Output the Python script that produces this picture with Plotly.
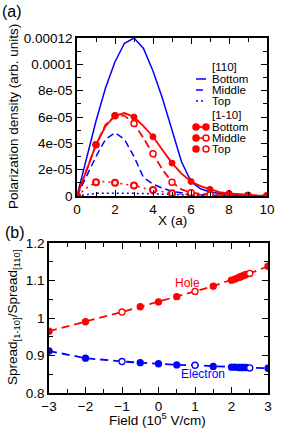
import plotly.graph_objects as go

# ---------------- Panel (a) data ----------------
X_A = [0, 0.5, 1, 1.5, 2, 2.5, 3, 3.5, 4, 4.5, 5, 5.5, 6, 6.5, 7, 7.5, 8, 8.5, 9, 9.5, 10]
b110_bottom = [0, 2.9e-5, 5.7e-5, 8.2e-5, 1.02e-4, 1.16e-4, 1.2e-4, 1.12e-4, 9.5e-5, 7.4e-5, 5.0e-5,
               2.6e-5, 1.1e-5, 5.5e-6, 3e-6, 2e-6, 1e-6, 6e-7, 3e-7, 1e-7, 0]
b110_middle = [0, 1.5e-5, 3.0e-5, 4.3e-5, 4.8e-5, 4.3e-5, 3.0e-5, 1.4e-5, 9e-6, 6e-6, 3.5e-6,
               2.5e-6, 1.5e-6, 1e-6, 5e-7, 3e-7, 2e-7, 1e-7, 0, 0, 0]
b110_top = [0, 1.2e-6, 2e-6, 2.1e-6, 2.2e-6, 2.1e-6, 2e-6, 1.9e-6, 1.8e-6, 1.5e-6, 1.2e-6,
            9e-7, 6e-7, 4e-7, 3e-7, 2e-7, 1e-7, 0, 0, 0, 0]
r1m10_bottom = [0, 2e-5, 3.9e-5, 5.3e-5, 6.1e-5, 6.3e-5, 6.0e-5, 5.3e-5, 4.5e-5, 3.5e-5, 2.5e-5,
                1.7e-5, 1.1e-5, 7.5e-6, 5e-6, 3e-6, 2e-6, 1.3e-6, 8e-7, 4e-7, 2e-7]
r1m10_middle = [0, 2e-5, 3.9e-5, 5.4e-5, 6.1e-5, 6.1e-5, 5.5e-5, 4.4e-5, 3.2e-5, 2.0e-5, 1.05e-5,
                5e-6, 2.5e-6, 1.6e-6, 1e-6, 7e-7, 4e-7, 2e-7, 1e-7, 0, 0]
r1m10_top = [0, 6e-6, 1.05e-5, 1.1e-5, 1.0e-5, 9e-6, 8e-6, 6e-6, 4.5e-6, 3.2e-6, 2e-6,
             1.5e-6, 1e-6, 7e-7, 5e-7, 3e-7, 2e-7, 1e-7, 0, 0, 0]

A_XTICKS = [0, 2, 4, 6, 8, 10]
A_YTICKS = [0, 2e-5, 4e-5, 6e-5, 8e-5, 1e-4, 1.2e-4]
A_YTICKTEXT = ["0", "2e-05", "4e-05", "6e-05", "8e-05", "0.0001", "0.00012"]

# ---------------- Panel (b) data ----------------
FIELD = [-3, -2, -1, -0.5, 0, 0.5, 1, 1.5, 2, 2.1, 2.2, 2.25, 2.3, 2.35, 2.4, 2.5, 3]
HOLE = [0.965, 0.990, 1.016, 1.030, 1.043, 1.057, 1.071, 1.085, 1.101, 1.104, 1.108, 1.110,
        1.112, 1.114, 1.116, 1.119, 1.138]
ELECTRON = [0.912, 0.893, 0.884, 0.881, 0.878, 0.875, 0.874, 0.871, 0.869, 0.869, 0.868, 0.868,
            0.868, 0.868, 0.868, 0.867, 0.866]
OPEN_MARK = [False, False, True, False, False, False, True, False, False, False, False, False,
             False, False, False, True, False]
B_XTICKS = [-3, -2, -1, 0, 1, 2, 3]
B_YTICKS = [0.8, 0.9, 1.0, 1.1, 1.2]
B_YTICKTEXT = ["0.8", "0.9", "1", "1.1", "1.2"]

RED = "#ff0000"
BLUE = "#0000ff"
FONT = "Liberation Sans, Arial, sans-serif"
W, H = 300, 437
FS = 13.5

fig = go.Figure()

# Panel (a) traces
fig.add_trace(go.Scatter(x=X_A, y=b110_bottom, mode="lines", line=dict(color=BLUE, width=1.5),
                         xaxis="x", yaxis="y", showlegend=False))
fig.add_trace(go.Scatter(x=X_A, y=b110_middle, mode="lines", line=dict(color=BLUE, width=1.5, dash="7px,4px"),
                         xaxis="x", yaxis="y", showlegend=False))
fig.add_trace(go.Scatter(x=X_A, y=b110_top, mode="lines", line=dict(color=BLUE, width=1.5, dash="2px,3px"),
                         xaxis="x", yaxis="y", showlegend=False))
fig.add_trace(go.Scatter(x=X_A, y=r1m10_top, mode="lines", line=dict(color=RED, width=1.5, dash="2px,4px"),
                         xaxis="x", yaxis="y", showlegend=False))
fig.add_trace(go.Scatter(x=X_A, y=r1m10_middle, mode="lines", line=dict(color=RED, width=1.8, dash="8px,4px"),
                         xaxis="x", yaxis="y", showlegend=False))
fig.add_trace(go.Scatter(x=X_A, y=r1m10_bottom, mode="lines", line=dict(color=RED, width=1.8),
                         xaxis="x", yaxis="y", showlegend=False))
# markers at integer X
fig.add_trace(go.Scatter(x=X_A[::2], y=r1m10_top[::2], mode="markers",
                         marker=dict(size=6, color="white", line=dict(color=RED, width=2)),
                         xaxis="x", yaxis="y", showlegend=False))
fig.add_trace(go.Scatter(x=X_A[::2], y=r1m10_middle[::2], mode="markers",
                         marker=dict(size=6, color="white", line=dict(color=RED, width=1.5)),
                         xaxis="x", yaxis="y", showlegend=False))
fig.add_trace(go.Scatter(x=X_A[::2], y=r1m10_bottom[::2], mode="markers",
                         marker=dict(size=6, color=RED, line=dict(color=RED, width=1)),
                         xaxis="x", yaxis="y", showlegend=False))

# Panel (b) traces
fig.add_trace(go.Scatter(x=FIELD, y=HOLE, mode="lines+markers",
                         line=dict(color=RED, width=1.8, dash="8px,5px"),
                         marker=dict(size=6, color=["white" if o else RED for o in OPEN_MARK],
                                     line=dict(color=RED, width=1.3)),
                         xaxis="x2", yaxis="y2", showlegend=False))
fig.add_trace(go.Scatter(x=FIELD, y=ELECTRON, mode="lines+markers",
                         line=dict(color=BLUE, width=1.8, dash="8px,5px"),
                         marker=dict(size=6, color=["white" if o else BLUE for o in OPEN_MARK],
                                     line=dict(color=BLUE, width=1.3)),
                         xaxis="x2", yaxis="y2", showlegend=False))

tickfont = dict(family=FONT, size=FS, color="black")
axis_common = dict(showline=True, linecolor="black", linewidth=1.5, mirror="ticks",
                   ticks="inside", ticklen=6, tickwidth=1.2, tickcolor="black",
                   showgrid=False, zeroline=False, tickfont=tickfont, automargin=False)

def px_x(p):
    return p / W

def px_y(p):
    return 1 - p / H

fig.update_layout(
    width=W, height=H, margin=dict(l=0, r=0, t=0, b=0, autoexpand=False),
    paper_bgcolor="white", plot_bgcolor="white",
    xaxis=dict(domain=[px_x(77), px_x(267)], range=[0, 10], anchor="y",
               tickvals=A_XTICKS, minor=dict(dtick=1, ticks="inside", ticklen=4, tickcolor="black"),
               **axis_common),
    yaxis=dict(domain=[px_y(196), px_y(38)], range=[0, 1.2e-4], anchor="x",
               tickvals=A_YTICKS, ticktext=A_YTICKTEXT,
               minor=dict(tickvals=[1e-5, 3e-5, 5e-5, 7e-5, 9e-5, 1.1e-4], ticks="inside", ticklen=4,
                          tickcolor="black"),
               **axis_common),
    xaxis2=dict(domain=[px_x(49), px_x(268)], range=[-3, 3], anchor="y2",
                tickvals=B_XTICKS, minor=dict(dtick=0.5, ticks="inside", ticklen=4, tickcolor="black"),
                **axis_common),
    yaxis2=dict(domain=[px_y(393), px_y(243)], range=[0.8, 1.2], anchor="x2",
                tickvals=B_YTICKS, ticktext=B_YTICKTEXT,
                minor=dict(tickvals=[0.85, 0.95, 1.05, 1.15], ticks="inside", ticklen=4, tickcolor="black"),
                **axis_common),
)

ann = []
def add_text(text, x, y, size=FS, color="black", angle=0, xanchor="center"):
    ann.append(dict(text=text, x=px_x(x), y=px_y(y), xref="paper", yref="paper", showarrow=False,
                    font=dict(family=FONT, size=size, color=color), textangle=angle,
                    xanchor=xanchor, yanchor="middle"))

add_text("(a)", 12, 11, size=16)
add_text("(b)", 15, 233, size=16)
add_text("Polarization density (arb. units)", 13, 117, angle=-90)
add_text("X (a)", 172, 220)
add_text("Spread<sub>[1-10]</sub>/Spread<sub>[110]</sub>", 13, 318, angle=-90)
add_text("Field (10<sup>5</sup> V/cm)", 158, 419)

# panel (b) curve labels in data coords
ann.append(dict(text="Hole", x=0.8, y=1.093, xref="x2", yref="y2", showarrow=False,
                font=dict(family=FONT, size=12, color=RED)))
ann.append(dict(text="Electron", x=1.22, y=0.851, xref="x2", yref="y2", showarrow=False,
                font=dict(family=FONT, size=12, color=BLUE)))

# custom legend (panel a)
LEG_X_TEXT = 210
LFS = 11.5
add_text("[110]", LEG_X_TEXT, 67, size=LFS, xanchor="left")
add_text("Bottom", LEG_X_TEXT, 79, size=LFS, xanchor="left")
add_text("Middle", LEG_X_TEXT, 90, size=LFS, xanchor="left")
add_text("Top", LEG_X_TEXT, 101, size=LFS, xanchor="left")
add_text("[1-10]", LEG_X_TEXT, 115, size=LFS, xanchor="left")
add_text("Bottom", LEG_X_TEXT, 127, size=LFS, xanchor="left")
add_text("Middle", LEG_X_TEXT, 138, size=LFS, xanchor="left")
add_text("Top", LEG_X_TEXT, 149, size=LFS, xanchor="left")
fig.update_layout(annotations=ann)

shapes = []
def seg(y, color, dash, width=1.5):
    shapes.append(dict(type="line", xref="paper", yref="paper", x0=px_x(196), x1=px_x(206),
                       y0=px_y(y), y1=px_y(y), line=dict(color=color, width=width, dash=dash)))

def circ(cx, cy, fill, r=3):
    shapes.append(dict(type="circle", xref="paper", yref="paper", x0=px_x(cx - r), x1=px_x(cx + r),
                       y0=px_y(cy + r), y1=px_y(cy - r), fillcolor=fill, line=dict(color=RED, width=1.5)))

seg(79, BLUE, "solid")
seg(90, BLUE, "7px,4px")
seg(101, BLUE, "2px,3px")
seg(127, RED, "solid", 1.8)
seg(138, RED, "solid", 1.5)
circ(196, 127, RED); circ(206, 127, RED)
circ(196, 138, RED); circ(206, 138, "white")
circ(196, 149, RED); circ(206, 149, "white")
fig.update_layout(shapes=shapes)

fig.write_html("out.html", config={"displayModeBar": False},
               post_script="document.body.style.margin='0';document.body.style.padding='0';")
